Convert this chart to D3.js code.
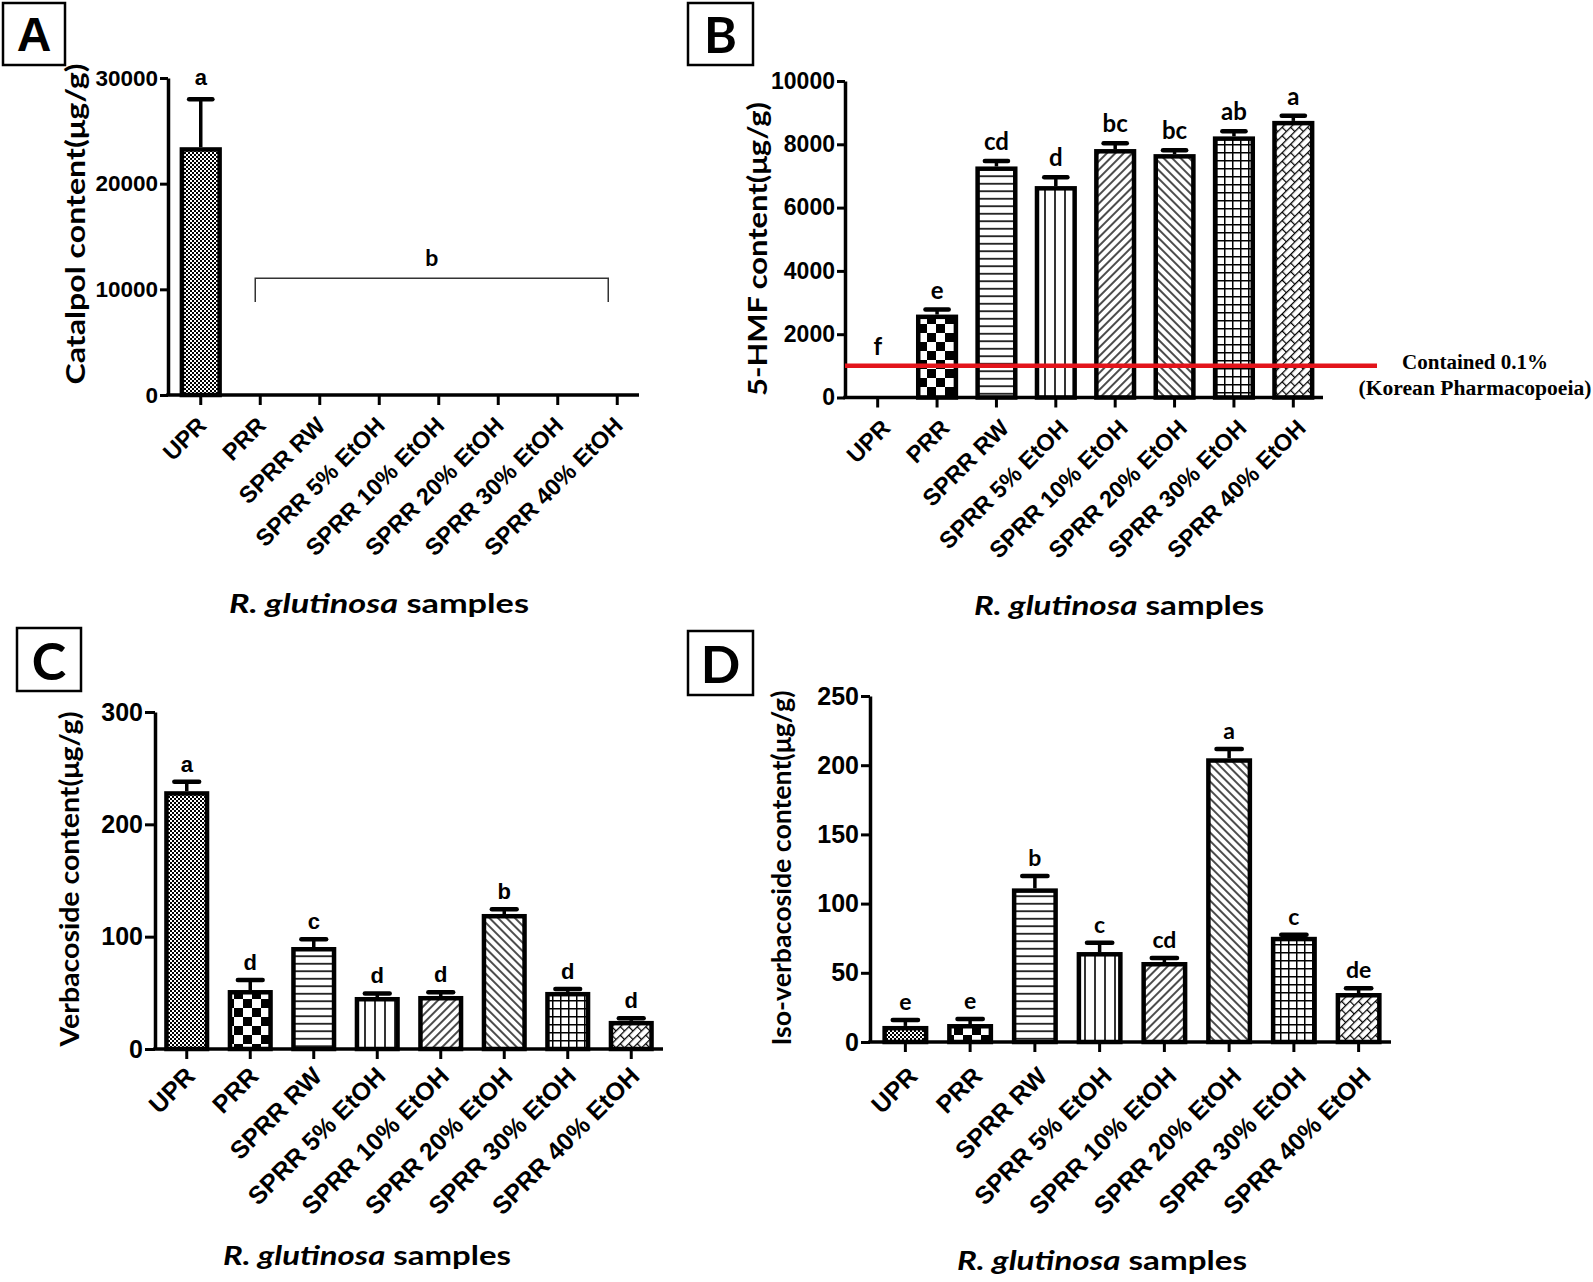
<!DOCTYPE html>
<html><head><meta charset="utf-8">
<script src="https://cdn.jsdelivr.net/npm/d3@7"></script>
<style>
html,body{margin:0;padding:0;background:#fff;}
svg{display:block;}
</style></head>
<body>
<svg id="chart" width="1593" height="1282"></svg>
<script>
// ---------------- DATA ----------------
const categories = ["UPR","PRR","SPRR RW","SPRR 5% EtOH","SPRR 10% EtOH","SPRR 20% EtOH","SPRR 30% EtOH","SPRR 40% EtOH"];

const catalpolMean = [23450, 0, 0, 0, 0, 0, 0, 0];
const catalpolErr  = [4550, 0, 0, 0, 0, 0, 0, 0];
const catalpolLetters = ["a","","","","","","",""];
const catalpolTicks = [0, 10000, 20000, 30000];
const catalpolBracketLetter = "b";
const catalpolBracketTop = 11050;
const catalpolBracketBottom = 8800;

const hmfMean = [0, 2620, 7300, 6680, 7850, 7690, 8250, 8740];
const hmfErr  = [0, 160, 170, 280, 180, 120, 160, 160];
const hmfLetters = ["f","e","cd","d","bc","bc","ab","a"];
const hmfTicks = [0, 2000, 4000, 6000, 8000, 10000];
const hmfLimit = 1000;
const hmfLimitText = ["Contained 0.1%", "(Korean Pharmacopoeia)"];

const verbMean = [229.5, 52.5, 90.8, 46.3, 47.2, 120.2, 50.8, 25.0];
const verbErr  = [8.5, 9.0, 7.0, 3.2, 3.4, 4.3, 2.6, 2.4];
const verbLetters = ["a","d","c","d","d","b","d","d"];
const verbTicks = [0, 100, 200, 300];

const isoMean = [11.6, 13.0, 111, 65, 57.8, 205, 76, 35.4];
const isoErr  = [4.3, 3.6, 9.0, 6.8, 2.9, 6.7, 1.5, 3.4];
const isoLetters = ["e","e","b","c","cd","a","c","de"];
const isoTicks = [0, 50, 100, 150, 200, 250];

const xTitleItalic = "R. glutinosa";
const xTitleRest = " samples";

// ---------------- SETUP ----------------
const svg = d3.select("#chart");
const defs = svg.append("defs");
const ARIAL = "'Liberation Sans', Arial, sans-serif";
const CAL = "Lato, 'Open Sans', sans-serif";
const TIMES = "'Liberation Serif', 'Times New Roman', serif";

function pat(id, w, h, transform) {
  const p = defs.append("pattern").attr("id", id).attr("patternUnits","userSpaceOnUse")
    .attr("width", w).attr("height", h);
  if (transform) p.attr("patternTransform", transform);
  p.append("rect").attr("width", w).attr("height", h).attr("fill", "#fff");
  return p;
}
// 1 fine checker
let p = pat("p0", 4, 4);
p.append("rect").attr("width",2).attr("height",2).attr("fill","#000");
p.append("rect").attr("x",2).attr("y",2).attr("width",2).attr("height",2).attr("fill","#000");
// 2 large checker
p = pat("p1", 18, 18);
p.append("rect").attr("width",9).attr("height",9).attr("fill","#000");
p.append("rect").attr("x",9).attr("y",9).attr("width",9).attr("height",9).attr("fill","#000");
// 3 horizontal lines
p = pat("p2", 10, 7.5);
p.append("line").attr("x1",0).attr("x2",10).attr("y1",3.75).attr("y2",3.75).attr("stroke","#000").attr("stroke-width",1.6);
// 4 vertical lines
p = pat("p3", 10, 10);
p.append("line").attr("y1",0).attr("y2",10).attr("x1",5).attr("x2",5).attr("stroke","#000").attr("stroke-width",1.6);
// 5 diagonal /
p = pat("p4", 6, 6, "rotate(45)");
p.append("line").attr("y1",0).attr("y2",6).attr("x1",3).attr("x2",3).attr("stroke","#000").attr("stroke-width",1.4);
// 6 diagonal \
p = pat("p5", 6, 6, "rotate(-45)");
p.append("line").attr("y1",0).attr("y2",6).attr("x1",3).attr("x2",3).attr("stroke","#000").attr("stroke-width",1.4);
// 7 grid
p = pat("p6", 8, 8);
p.append("path").attr("d","M0,0.75H8M0.75,0V8").attr("stroke","#000").attr("stroke-width",1.5).attr("fill","none");
// 8 brick diagonal
p = pat("p7", 12, 12, "rotate(-45)");
p.append("path").attr("d","M0,0.6H12M0,6.6H12M0.6,0V6.6M6.6,6.6V12").attr("stroke","#000").attr("stroke-width",1.2).attr("fill","none");
const patterns = ["p0","p1","p2","p3","p4","p5","p6","p7"];

function fit(sel, target) {
  sel.style("font-size","100px");
  const len = sel.node().getComputedTextLength();
  sel.style("font-size", (100*target/len).toFixed(2)+"px");
}
function stretch(sel, size, target) {
  sel.style("font-size", size+"px").attr("textLength", target).attr("lengthAdjust","spacingAndGlyphs");
}

function drawPanel(cfg) {
  const g = svg.append("g");
  const x = d3.scaleBand().domain(categories).range([cfg.x0, cfg.x1]).padding(0);
  const y = d3.scaleLinear().domain([0, d3.max(cfg.ticks)]).range([cfg.yBottom, cfg.yTop]);
  const step = x.step();
  const cx = c => x(c) + step/2;
  const sw = 4.5;
  const bwOuter = step*0.71;
  const rows = categories.map((c,i)=>({c, i, m: cfg.mean[i], e: cfg.err[i], l: cfg.letters[i]}));

  // error bars (upper)
  const capW = bwOuter*0.55;
  rows.filter(r=>r.e>0).forEach(r=>{
    g.append("line").attr("x1",cx(r.c)).attr("x2",cx(r.c))
      .attr("y1",y(r.m)).attr("y2",y(r.m+r.e)).attr("stroke","#000").attr("stroke-width",3.5);
    g.append("line").attr("x1",cx(r.c)-capW/2).attr("x2",cx(r.c)+capW/2)
      .attr("y1",y(r.m+r.e)).attr("y2",y(r.m+r.e)).attr("stroke","#000").attr("stroke-width",4.5)
      .attr("stroke-linecap","round");
  });

  // bars
  g.selectAll("rect.bar").data(rows.filter(r=>r.m>0)).join("rect")
    .attr("class","bar")
    .attr("x", r=>cx(r.c)-bwOuter/2+sw/2)
    .attr("width", bwOuter-sw)
    .attr("y", r=>y(r.m)+sw/2)
    .attr("height", r=>Math.max(0, y(0)-y(r.m)-sw/2))
    .attr("fill", r=>`url(#${patterns[r.i]})`)
    .attr("stroke","#000").attr("stroke-width",sw);

  // y axis
  const ya = g.append("g").attr("transform",`translate(${cfg.yAxisX},0)`)
    .call(d3.axisLeft(y).tickValues(cfg.ticks).tickFormat(d3.format("d"))
      .tickSize(cfg.tickLen).tickPadding(2).tickSizeOuter(0));
  ya.select(".domain").attr("stroke-width",3.5);
  ya.selectAll(".tick line").attr("stroke-width",3);
  ya.selectAll(".tick text").style("font-family",ARIAL).style("font-weight","bold")
    .style("font-size",cfg.tickFont+"px").attr("fill","#000");

  // x axis
  const xa = g.append("g").attr("transform",`translate(0,${cfg.yBottom})`)
    .call(d3.axisBottom(x).tickSize(10).tickSizeOuter(0).tickFormat(""));
  xa.select(".domain").remove();
  xa.selectAll(".tick line").attr("stroke-width",3);
  g.append("line").attr("x1",cfg.yAxisX-1.75).attr("x2",cfg.axisEnd).attr("y1",cfg.yBottom).attr("y2",cfg.yBottom)
    .attr("stroke","#000").attr("stroke-width",3.5);

  // category labels
  g.selectAll("text.cat").data(categories).join("text").attr("class","cat")
    .attr("transform", c=>`translate(${cx(c)+cfg.catDx},${cfg.yBottom+cfg.catDy}) rotate(-45)`)
    .attr("text-anchor","end").attr("dy","0.72em")
    .style("font-family",ARIAL).style("font-weight","bold").style("font-size",cfg.catFont+"px")
    .text(c=>c);

  // significance letters
  rows.filter(r=>r.l).forEach(r=>{
    const top = r.m>0 ? y(r.m+r.e) : y(cfg.zeroLetterAt || 0);
    g.append("text").attr("x",cx(r.c)).attr("y",top-cfg.letterGap)
      .attr("text-anchor","middle")
      .style("font-family",cfg.letterFamily).style("font-weight","bold").style("font-size",cfg.letterFont+"px")
      .text(r.l);
  });

  // y title
  const yt = g.append("text")
    .attr("transform",`translate(${cfg.yTitleX},${cfg.yTitleY}) rotate(-90)`)
    .attr("text-anchor","middle").attr("dominant-baseline","central")
    .style("font-family",CAL).style("font-weight","bold").text(cfg.yTitle);
  stretch(yt, 26, cfg.yTitleLen);

  // x title
  const xt = g.append("text").attr("x",cfg.xTitleX).attr("y",cfg.xTitleY).attr("text-anchor","middle")
    .style("font-family",CAL).style("font-weight","bold");
  xt.append("tspan").style("font-style","italic").text(xTitleItalic);
  xt.append("tspan").text(xTitleRest);
  stretch(xt, 26, cfg.xTitleLen);

  // panel letter box
  const b = cfg.box;
  g.append("rect").attr("x",b[0]).attr("y",b[1]).attr("width",b[2]-b[0]).attr("height",b[3]-b[1])
    .attr("fill","#fff").attr("stroke","#000").attr("stroke-width",2.5);
  g.append("text").attr("x",(b[0]+b[2])/2).attr("y",(b[1]+b[3])/2).attr("text-anchor","middle")
    .attr("dominant-baseline","central")
    .style("font-family",cfg.boxFamily).style("font-weight","bold").style("font-size",cfg.boxFont+"px")
    .text(cfg.label);

  return {g, x, y, cx};
}

// Panel A
const A = drawPanel({label:"A", box:[3,3,65,65], boxFamily:ARIAL, boxFont:48,
  mean:catalpolMean, err:catalpolErr, letters:catalpolLetters, ticks:catalpolTicks,
  x0:171, x1:647, axisEnd:639, yAxisX:168, yBottom:395, yTop:78, tickLen:8, tickFont:22.5,
  catFont:23.5, catDx:-5, catDy:20, letterFamily:ARIAL, letterFont:22, letterGap:14,
  yTitle:"Catalpol content(μg/g)", yTitleX:75, yTitleY:224, yTitleLen:321,
  xTitleX:379, xTitleY:613, xTitleLen:300});
{
  const xl = A.cx(categories[1]) - 5, xr = A.cx(categories[7]) - 9;
  const yt = A.y(catalpolBracketTop), yb = A.y(catalpolBracketBottom);
  A.g.append("path").attr("d",`M${xl},${yb}V${yt}H${xr}V${yb}`).attr("fill","none")
    .attr("stroke","#333").attr("stroke-width",1.5);
  A.g.append("text").attr("x",(xl+xr)/2).attr("y",yt-12).attr("text-anchor","middle")
    .style("font-family",CAL).style("font-weight","bold").style("font-size","23px").text(catalpolBracketLetter);
}

// Panel B
const B = drawPanel({label:"B", box:[688,3,753,65], boxFamily:CAL, boxFont:50,
  mean:hmfMean, err:hmfErr, letters:hmfLetters, ticks:hmfTicks, zeroLetterAt:hmfLimit,
  x0:848, x1:1323, axisEnd:1323, yAxisX:845, yBottom:397.5, yTop:81, tickLen:8, tickFont:23,
  catFont:23.5, catDx:2, catDy:20, letterFamily:CAL, letterFont:24, letterGap:11,
  yTitle:"5-HMF content(μg/g)", yTitleX:757, yTitleY:249, yTitleLen:294,
  xTitleX:1119, xTitleY:615, xTitleLen:290});
{
  const yl = B.y(hmfLimit);
  B.g.append("line").attr("x1",845).attr("x2",1377).attr("y1",yl).attr("y2",yl)
    .attr("stroke","#e3141b").attr("stroke-width",4.5);
  const t1 = B.g.append("text").attr("x",1475).attr("y",yl+3).attr("text-anchor","middle")
    .style("font-family",TIMES).style("font-weight","bold").text(hmfLimitText[0]);
  fit(t1, 146);
  const t2 = B.g.append("text").attr("x",1475).attr("y",yl+29).attr("text-anchor","middle")
    .style("font-family",TIMES).style("font-weight","bold").text(hmfLimitText[1]);
  fit(t2, 233);
}

// Panel C
drawPanel({label:"C", box:[17,628,81,691], boxFamily:CAL, boxFont:52,
  mean:verbMean, err:verbErr, letters:verbLetters, ticks:verbTicks,
  x0:155, x1:663, axisEnd:663, yAxisX:155, yBottom:1049, yTop:712, tickLen:10, tickFont:25,
  catFont:25, catDx:-3, catDy:16, letterFamily:ARIAL, letterFont:22, letterGap:10,
  yTitle:"Verbacoside content(μg/g)", yTitleX:69, yTitleY:879, yTitleLen:335,
  xTitleX:367, xTitleY:1265, xTitleLen:288});

// Panel D
drawPanel({label:"D", box:[688,631,753,695], boxFamily:CAL, boxFont:52,
  mean:isoMean, err:isoErr, letters:isoLetters, ticks:isoTicks,
  x0:873, x1:1391, axisEnd:1391, yAxisX:870, yBottom:1042, yTop:696, tickLen:9, tickFont:25,
  catFont:25, catDx:1, catDy:23, letterFamily:CAL, letterFont:23, letterGap:10,
  yTitle:"Iso-verbacoside content(μg/g)", yTitleX:781, yTitleY:868, yTitleLen:355,
  xTitleX:1102, xTitleY:1270, xTitleLen:290});
</script>
</body></html>
